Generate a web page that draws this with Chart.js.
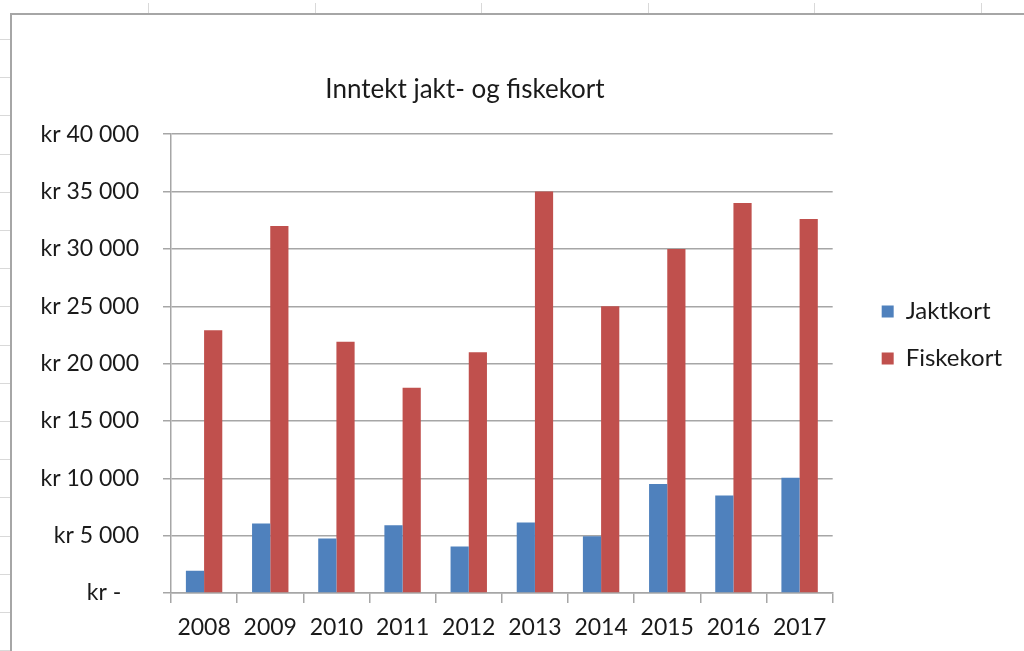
<!DOCTYPE html>
<html lang="no">
<head>
<meta charset="utf-8">
<title>Inntekt jakt- og fiskekort</title>
<script src="https://cdn.jsdelivr.net/npm/chart.js@4.4.1/dist/chart.umd.min.js"></script>
<style>
  html, body { margin: 0; padding: 0; background: #fff; }
  #wrap { position: relative; width: 1024px; height: 651px; overflow: hidden; }
</style>
</head>
<body>
<div id="wrap"><canvas id="inntekt" width="1024" height="651"></canvas></div>
<script>
// ---- Data (kr) ----
const years = ['2008', '2009', '2010', '2011', '2012', '2013', '2014', '2015', '2016', '2017'];
const jaktkort = [1950, 6050, 4750, 5900, 4050, 6150, 4950, 9500, 8500, 10050];
const fiskekort = [22900, 32000, 21900, 17900, 21000, 35000, 25000, 30000, 34000, 32600];
const yMin = 0;
const yMax = 40000;
const yStep = 5000;

const FONT = 'Lato, Calibri, Carlito, sans-serif';
const TEXT = '#1a1a1a';
const GRID = '#a6a6a6';

// "kr 40 000", "kr -" (Excel accounting style)
function krLabel(v) {
  if (v === 0) return 'kr -   ';
  return 'kr ' + String(v).replace(/\B(?=(\d{3})+(?!\d))/g, ' ');
}

// ---- Spreadsheet lines + chart frame behind the chart ----
const sheetBackdrop = {
  id: 'sheetBackdrop',
  beforeDraw(chart) {
    const { ctx, width, height } = chart;
    ctx.save();
    ctx.fillStyle = '#fff';
    ctx.fillRect(0, 0, width, height);
    ctx.strokeStyle = '#d9d9d9';
    ctx.lineWidth = 1;
    ctx.beginPath();
    for (let x = 148; x < width; x += 166.6) {
      ctx.moveTo(Math.round(x) + 0.5, 3);
      ctx.lineTo(Math.round(x) + 0.5, 13);
    }
    for (let y = 39; y < height; y += 38.2) {
      ctx.moveTo(0, Math.round(y) + 0.5);
      ctx.lineTo(10, Math.round(y) + 0.5);
    }
    ctx.stroke();
    ctx.strokeStyle = '#a6a6a6';
    ctx.lineWidth = 2;
    ctx.beginPath();
    ctx.moveTo(11, height);
    ctx.lineTo(11, 14);
    ctx.lineTo(width, 14);
    ctx.stroke();
    ctx.restore();
  },
};

// ---- Excel puts the title left of the plot centre ----
const titleShift = {
  id: 'titleShift',
  afterLayout(chart, args, opts) {
    const t = chart.titleBlock;
    if (!t) return;
    const half = (t.right - t.left) / 2;
    t.left = opts.centerX - half;
    t.right = opts.centerX + half;
  },
};

new Chart(document.getElementById('inntekt'), {
  type: 'bar',
  data: {
    labels: years,
    datasets: [
      { label: 'Jaktkort', data: jaktkort, backgroundColor: '#4f81bd' },
      { label: 'Fiskekort', data: fiskekort, backgroundColor: '#c0504d' },
    ],
  },
  options: {
    responsive: false,
    devicePixelRatio: 1,
    animation: false,
    layout: { padding: { top: 19, right: 12, bottom: 0, left: 0 } },
    datasets: { bar: { categoryPercentage: 0.55, barPercentage: 1 } },
    plugins: {
      title: {
        display: true,
        text: 'Inntekt jakt- og fiskekort',
        color: TEXT,
        font: { family: FONT, size: 26, weight: 'normal' },
        padding: { top: 55, bottom: 29 },
      },
      titleShift: { centerX: 465 },
      legend: {
        position: 'right',
        labels: {
          color: TEXT,
          font: { family: FONT, size: 24 },
          boxWidth: 12,
          boxHeight: 12,
          padding: 23,
        },
      },
      tooltip: { enabled: false },
    },
    scales: {
      x: {
        grid: { drawOnChartArea: false, drawTicks: true, tickLength: 10, color: GRID, lineWidth: 1.5, offset: true },
        border: { color: GRID, width: 1.5 },
        ticks: { color: TEXT, font: { family: FONT, size: 23 }, padding: 11, maxRotation: 0, autoSkip: false },
        afterFit: (s) => { s.height = 58; },
      },
      y: {
        min: yMin,
        max: yMax,
        ticks: { stepSize: yStep, callback: krLabel, color: TEXT, font: { family: FONT, size: 23 }, padding: 24 },
        grid: { color: GRID, lineWidth: 1.5, tickLength: 8 },
        border: { color: GRID, width: 1.5 },
        afterFit: (s) => { s.width = 171; },
      },
      // empty spacer between plot and legend
      spacer: {
        type: 'linear',
        position: 'right',
        grid: { display: false },
        ticks: { display: false },
        border: { display: false },
        afterFit: (s) => { s.width = 26; },
      },
    },
  },
  plugins: [sheetBackdrop, titleShift],
});
</script>
</body>
</html>
